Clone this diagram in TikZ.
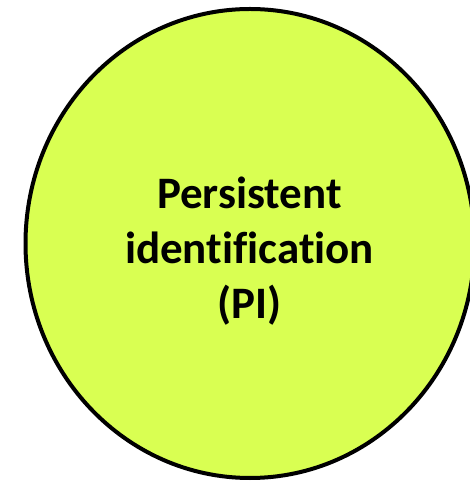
\documentclass[tikz,border=0pt]{standalone}
\usepackage{fontspec}
\setmainfont{Carlito}[Ligatures=NoCommon]
\usetikzlibrary{positioning}
\tikzset{
  piblob/.style={ellipse, draw=black, line width=4pt, fill=\piFill,
                 minimum width=449pt, minimum height=469pt, inner sep=0pt},
  pitext/.style={align=center, font=\fontsize{45}{55}\selectfont\bfseries},
}
\usetikzlibrary{shapes.geometric}
\newcommand{\piFill}{piLime}
\definecolor{piLime}{RGB}{217,255,82}

\begin{document}
\begin{tikzpicture}[x=1pt,y=1pt]
  \useasboundingbox (0,0) rectangle (469,481);
  \node[piblob] (PI) at (250,237.5) {};
  \node[pitext] (PIlab) at (249.5,230) {Persistent\\identification\\(PI)};
\end{tikzpicture}
\end{document}
